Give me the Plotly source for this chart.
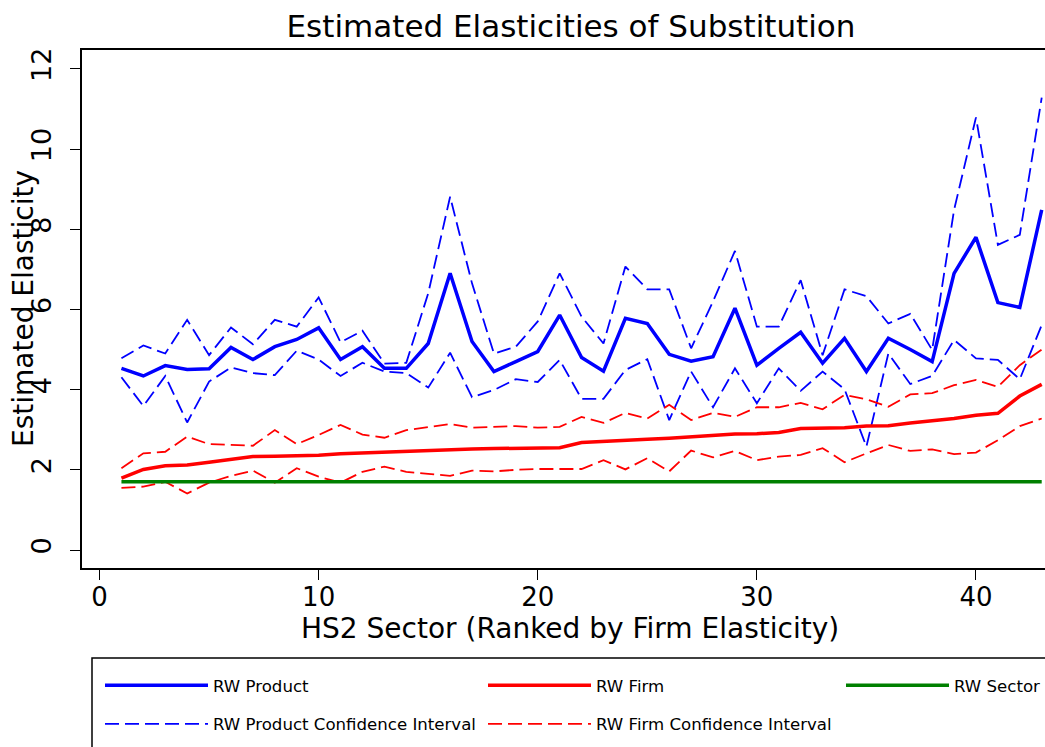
import plotly.graph_objects as go

# HS2 sectors ranked by firm-level elasticity
sector_rank = list(range(1, 44))

rw_product = [4.53, 4.34, 4.60, 4.50, 4.52, 5.05, 4.75, 5.07, 5.25, 5.54,
              4.75, 5.07, 4.53, 4.53, 5.15, 6.90, 5.20, 4.45, 4.70, 4.95,
              5.86, 4.80, 4.46, 5.78, 5.65, 4.88, 4.71, 4.82, 6.03, 4.61,
              5.03, 5.43, 4.66, 5.28, 4.45, 5.28, 5.00, 4.70, 6.90, 7.80,
              6.17, 6.05, 8.48]
rw_product_hi = [4.78, 5.10, 4.90, 5.74, 4.86, 5.55, 5.13, 5.74, 5.57, 6.30,
                 5.18, 5.47, 4.65, 4.67, 6.40, 8.81, 6.65, 4.90, 5.07, 5.70,
                 6.90, 5.82, 5.15, 7.07, 6.50, 6.50, 5.03, 6.20, 7.46, 5.57,
                 5.57, 6.73, 4.86, 6.50, 6.33, 5.65, 5.89, 4.99, 8.48, 10.79,
                 7.61, 7.86, 11.28]
rw_product_lo = [4.31, 3.59, 4.34, 3.18, 4.20, 4.55, 4.41, 4.36, 4.97, 4.75,
                 4.34, 4.67, 4.45, 4.41, 4.05, 4.92, 3.81, 3.99, 4.26, 4.19,
                 4.74, 3.77, 3.77, 4.49, 4.76, 3.24, 4.45, 3.56, 4.53, 3.66,
                 4.53, 3.97, 4.45, 4.01, 2.58, 4.90, 4.14, 4.34, 5.24, 4.78,
                 4.74, 4.26, 5.61]

rw_firm = [1.79, 2.01, 2.10, 2.12, 2.19, 2.26, 2.33, 2.34, 2.35, 2.36,
           2.40, 2.42, 2.44, 2.48, 2.48, 2.51, 2.52, 2.53, 2.54, 2.54,
           2.55, 2.68, 2.70, 2.73, 2.76, 2.79, 2.83, 2.86, 2.89, 2.90,
           2.93, 3.03, 3.04, 3.05, 3.09, 3.10, 3.17, 3.22, 3.28, 3.36,
           3.41, 3.84, 4.13]
rw_firm_hi = [2.04, 2.41, 2.45, 2.83, 2.64, 2.62, 2.60, 2.99, 2.64, 2.87,
              3.12, 2.88, 2.80, 2.99, 3.07, 3.14, 3.05, 3.07, 3.09, 3.05,
              3.07, 3.32, 3.17, 3.42, 3.28, 3.62, 3.24, 3.42, 3.32, 3.56,
              3.56, 3.67, 3.51, 3.87, 3.76, 3.57, 3.88, 3.91, 4.11, 4.24,
              4.07, 4.61, 5.00]
rw_firm_lo = [1.55, 1.58, 1.70, 1.41, 1.68, 1.85, 1.98, 1.68, 2.04, 1.83,
              1.68, 1.95, 2.08, 1.95, 1.90, 1.85, 1.98, 1.96, 2.00, 2.02,
              2.02, 2.02, 2.24, 2.01, 2.29, 1.96, 2.48, 2.31, 2.47, 2.24,
              2.33, 2.37, 2.54, 2.19, 2.41, 2.62, 2.47, 2.51, 2.39, 2.43,
              2.74, 3.09, 3.28]

rw_sector = [1.70] * len(sector_rank)

x_ticks = [0, 10, 20, 30, 40]
y_ticks = [0, 2, 4, 6, 8, 10, 12]

FONT = "DejaVu Sans"
BLUE, RED, GREEN = "#0000ff", "#ff0000", "#008000"
DASH = "14px,6px"

W, H = 1045, 747
L, T, B = 82, 50, 179

fig = go.Figure()

fig.add_trace(go.Scatter(x=sector_rank, y=rw_product, mode="lines", name="RW Product",
                         line=dict(color=BLUE, width=3.5), legend="legend", legendgroup="p"))
fig.add_trace(go.Scatter(x=sector_rank, y=rw_product_hi, mode="lines",
                         name="RW Product Confidence Interval",
                         line=dict(color=BLUE, width=1.8, dash=DASH), legend="legend", legendgroup="pci"))
fig.add_trace(go.Scatter(x=sector_rank, y=rw_product_lo, mode="lines",
                         name="RW Product Confidence Interval", showlegend=False,
                         line=dict(color=BLUE, width=1.8, dash=DASH), legend="legend", legendgroup="pci"))
fig.add_trace(go.Scatter(x=sector_rank, y=rw_firm, mode="lines", name="RW Firm",
                         line=dict(color=RED, width=3.5), legend="legend2", legendgroup="f"))
fig.add_trace(go.Scatter(x=sector_rank, y=rw_firm_hi, mode="lines",
                         name="RW Firm Confidence Interval",
                         line=dict(color=RED, width=1.8, dash=DASH), legend="legend2", legendgroup="fci"))
fig.add_trace(go.Scatter(x=sector_rank, y=rw_firm_lo, mode="lines",
                         name="RW Firm Confidence Interval", showlegend=False,
                         line=dict(color=RED, width=1.8, dash=DASH), legend="legend2", legendgroup="fci"))
fig.add_trace(go.Scatter(x=sector_rank, y=rw_sector, mode="lines", name="RW Sector",
                         line=dict(color=GREEN, width=3.5), legend="legend3", legendgroup="s"))

legend_common = dict(
    xref="container", yref="container", xanchor="left", yanchor="top",
    y=1 - 668 / H, bgcolor="rgba(0,0,0,0)", borderwidth=0,
    itemwidth=103, tracegroupgap=14, traceorder="grouped",
    font=dict(family=FONT, size=16.6, color="black"),
    orientation="v",
)

fig.update_layout(
    width=W, height=H,
    margin=dict(l=L, r=0, t=T, b=B, pad=0, autoexpand=False),
    paper_bgcolor="white", plot_bgcolor="white",
    font=dict(family=FONT, color="black"),
    title=dict(text="Estimated Elasticities of Substitution",
               font=dict(family=FONT, size=31, color="black"),
               xref="container", yref="container",
               x=571 / W, xanchor="center", y=1 - 26 / H, yanchor="middle"),
    xaxis=dict(range=[-0.80, 43.15], tickvals=x_ticks, ticks="outside", ticklen=10,
               tickwidth=1.2, tickcolor="black", showline=True, linecolor="black",
               linewidth=1.6, mirror=True, showgrid=False, zeroline=False,
               ticklabelstandoff=-5,
               tickfont=dict(family=FONT, size=26, color="black")),
    yaxis=dict(range=[-0.449, 12.47], tickvals=y_ticks, ticks="outside", ticklen=10,
               tickwidth=1.2, tickcolor="black", showline=True, linecolor="black",
               linewidth=1.6, mirror=False, showgrid=False, zeroline=False,
               tickangle=-90, ticklabelstandoff=8,
               tickfont=dict(family=FONT, size=27, color="black")),
    legend=dict(legend_common, x=100 / W),
    legend2=dict(legend_common, x=483 / W),
    legend3=dict(legend_common, x=841 / W),
    showlegend=True,
)

plot_w = W - L
plot_h = H - T - B

fig.add_annotation(text="HS2 Sector (Ranked by Firm Elasticity)", xref="paper", yref="paper",
                   x=(570 - L) / plot_w, y=(plot_h + T - 628) / plot_h,
                   xanchor="center", yanchor="middle", showarrow=False,
                   font=dict(family=FONT, size=28, color="black"))
fig.add_annotation(text="Estimated Elasticity", xref="paper", yref="paper",
                   x=(23 - L) / plot_w, y=0.5, textangle=-90,
                   xanchor="center", yanchor="middle", showarrow=False,
                   font=dict(family=FONT, size=28, color="black"))

# frame around the legend entries
fig.add_shape(type="rect", xref="paper", yref="paper",
              x0=(92 - L) / plot_w, x1=(1070 - L) / plot_w,
              y0=(plot_h + T - 760) / plot_h, y1=(plot_h + T - 658) / plot_h,
              line=dict(color="black", width=1.5), fillcolor="rgba(0,0,0,0)", layer="below")

fig.write_html("out.html")
